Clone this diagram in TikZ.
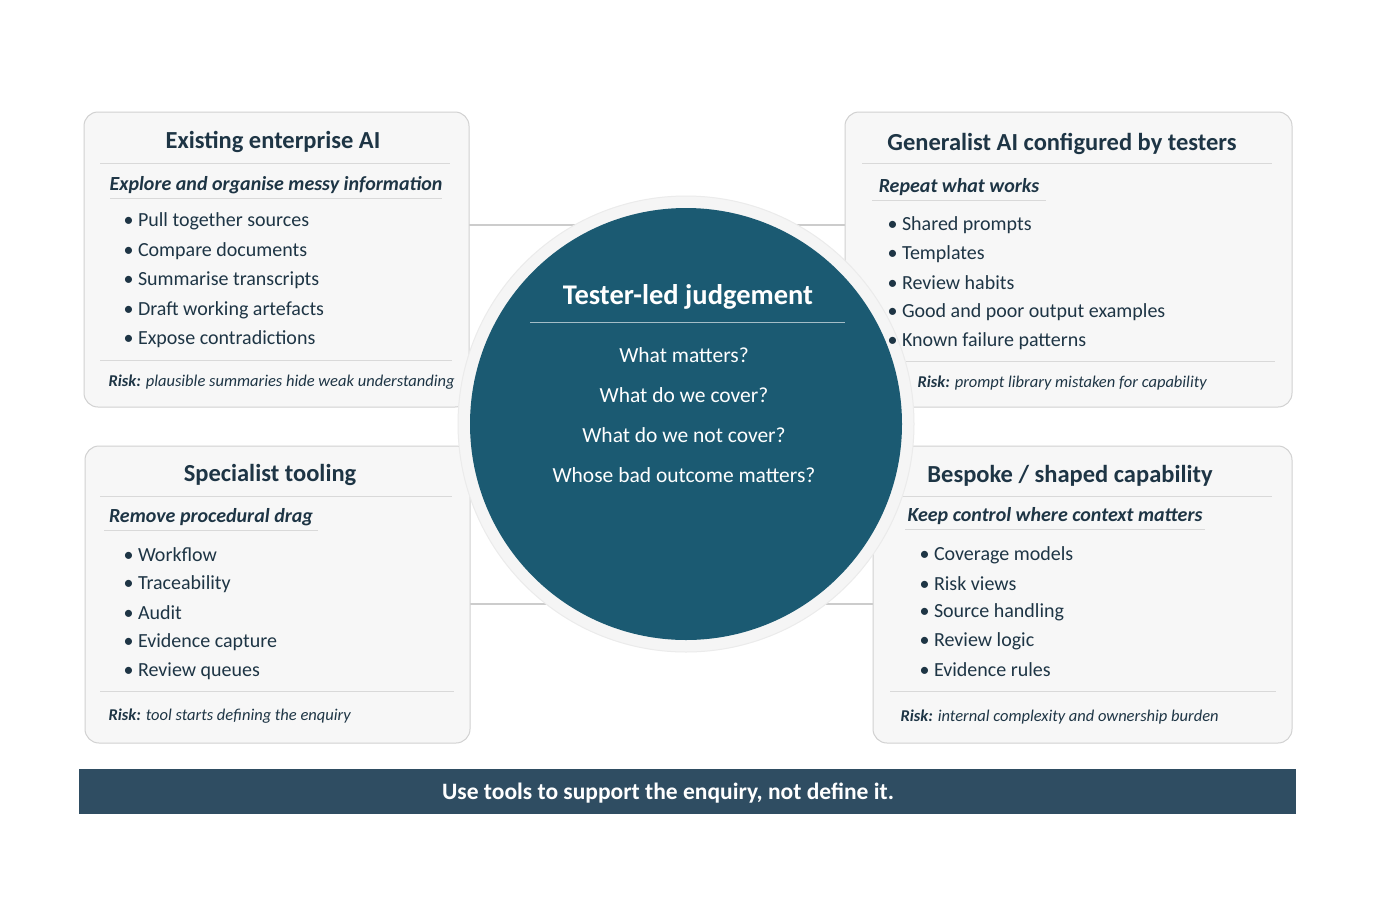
\documentclass[tikz,border=0pt]{standalone}
\usepackage{fontspec}
\setmainfont{Carlito}
\begin{document}
\begin{tikzpicture}[x=1pt,y=-1pt,
  card/.style={draw=black!18, line width=1pt, fill=black!3, rounded corners=14pt},
  ttl/.style={text=txt, font=\fontsize{24.5}{28}\selectfont\bfseries, anchor=center},
  sub/.style={text=txt, font=\fontsize{20}{23}\selectfont\bfseries\itshape, anchor=center},
  bul/.style={text=txt, font=\fontsize{20}{23}\selectfont, anchor=west},
  risk/.style={text=txt, font=\fontsize{16.5}{19}\selectfont\itshape, anchor=west},
  sep/.style={draw=black!15, line width=0.8pt},
  conn/.style={draw=black!20, line width=1.2pt},
  qn/.style={text=white, font=\fontsize{21.5}{25}\selectfont, anchor=center}]
\definecolor{txt}{HTML}{1E3545}
\definecolor{teal}{HTML}{1B5A72}
\definecolor{bar}{HTML}{2F4D62}
\useasboundingbox[fill=white] (0,0) rectangle (1375,918);
% connectors
\coordinate (c1a) at (469,225); \coordinate (c1b) at (575,225);
\coordinate (c2a) at (795,225); \coordinate (c2b) at (845,225);
\coordinate (c3a) at (470,604); \coordinate (c3b) at (555,604);
\coordinate (c4a) at (820,604); \coordinate (c4b) at (873,604);
\draw[conn] (c1a)--(c1b); \draw[conn] (c2a)--(c2b);
\draw[conn] (c3a)--(c3b); \draw[conn] (c4a)--(c4b);
% cards
\draw[card] (84,112) rectangle (469,407);
\draw[card] (845,112) rectangle (1292,407);
\draw[card] (85,446) rectangle (470,743);
\draw[card] (873,446) rectangle (1292,743);
\draw[sep] (100,163)--(450,163);
\draw[sep] (110,198)--(442,198);
\draw[sep] (100,360)--(452,360);
\draw[sep] (862,163)--(1272,163);
\draw[sep] (872,200)--(1046,200);
\draw[sep] (862,361)--(1275,361);
\draw[sep] (100,496)--(452,496);
\draw[sep] (104,530)--(318,530);
\draw[sep] (100,691)--(454,691);
\draw[sep] (890,496)--(1272,496);
\draw[sep] (905,529)--(1205,529);
\draw[sep] (890,691)--(1276,691);
% circle
\node[circle, minimum size=456pt, fill=black!4, draw=black!8, line width=1pt] (halo) at (686,424) {};
\node[circle, minimum size=432pt, fill=teal] (hub) at (686,424) {};
\node[text=white, font=\fontsize{28.5}{32}\selectfont\bfseries] (ht) at (688,297) {Tester-led judgement};
\draw[draw=white!60!teal, line width=1pt] (530,322)--(845,322);
\node[qn] (q1) at (684,355) {What matters?};
\node[qn] (q2) at (684,395) {What do we cover?};
\node[qn] (q3) at (684,435) {What do we not cover?};
\node[qn] (q4) at (684,475) {Whose bad outcome matters?};
% TL
\node[ttl] (t1) at (273,142) {Existing enterprise AI};
\node[sub] (s1) at (276,185) {Explore and organise messy information};
\foreach \t [count=\i] in {Pull together sources,Compare documents,Summarise transcripts,Draft working artefacts,Expose contradictions}
  \node[bul] (b1\i) at (120,192+29.5*\i) {\textbullet\ \t};
\node[risk] (r1) at (105,382) {\textbf{Risk:} plausible summaries hide weak understanding};
% TR
\node[ttl] (t2) at (1062,144) {Generalist AI configured by testers};
\node[sub] (s2) at (959,187) {Repeat what works};
\foreach \t [count=\i] in {Shared prompts,Templates,Review habits,Good and poor output examples,Known failure patterns}
  \node[bul] (b2\i) at (884,196+29*\i) {\textbullet\ \t};
\node[risk] (r2) at (914,383) {\textbf{Risk:} prompt library mistaken for capability};
% BL
\node[ttl] (t3) at (270,475) {Specialist tooling};
\node[sub] (s3) at (211,517) {Remove procedural drag};
\foreach \t [count=\i] in {Workflow,Traceability,Audit,Evidence capture,Review queues}
  \node[bul] (b3\i) at (120,526+29*\i) {\textbullet\ \t};
\node[risk] (r3) at (105,716) {\textbf{Risk:} tool starts defining the enquiry};
% BR
\node[ttl] (t4) at (1070,476) {Bespoke / shaped capability};
\node[sub] (s4) at (1055,516) {Keep control where context matters};
\foreach \t [count=\i] in {Coverage models,Risk views,Source handling,Review logic,Evidence rules}
  \node[bul] (b4\i) at (916,527+28.5*\i) {\textbullet\ \t};
\node[risk] (r4) at (897,717) {\textbf{Risk:} internal complexity and ownership burden};
% bar
\node[fill=bar, minimum width=1217pt, minimum height=45pt, inner sep=0pt] (barn) at (687.5,791.5) {};
\node[text=white, font=\fontsize{23.5}{27}\selectfont\bfseries] (bt) at (668,793) {Use tools to support the enquiry, not define it.};
\end{tikzpicture}
\end{document}
